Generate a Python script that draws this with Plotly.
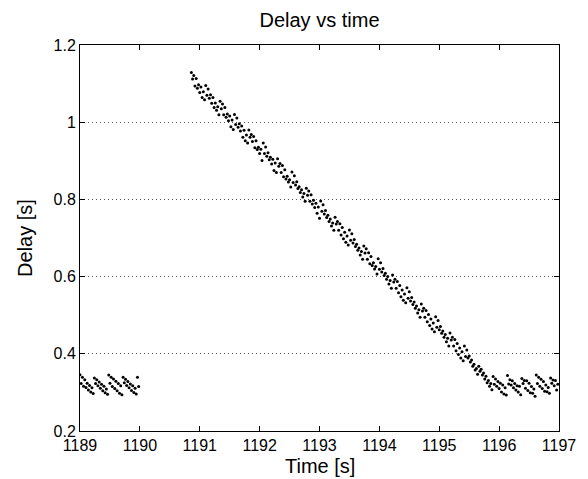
import numpy as np
import plotly.graph_objects as go

# Sampling grid (s)
sample_interval = 0.02
seg1_start = 1189.00
seg2_start = 1190.86

# Measured delay (ms), first burst
delay_seg1_ms = [
    346, 323, 339, 316, 333, 313, 324, 306, 318, 301, 312, 297,
    337, 323, 333, 317, 327, 311, 321, 304, 316, 299, 309, 295,
    345, 324, 339, 315, 335, 310, 329, 304, 323, 298, 317, 294,
    339, 325, 334, 318, 328, 312, 322, 305, 317, 300, 311, 296,
    339, 315,
]

# Measured delay (ms), second burst: draining queue then steady state
delay_seg2_ms = [
    1129, 1112, 1121, 1094, 1113, 1088, 1097, 1077, 1091, 1064, 1079, 1058,
    1095, 1070, 1086, 1062, 1071, 1049, 1064, 1038, 1050, 1031, 1040, 1019,
    1054, 1035, 1047, 1019, 1038, 1013, 1021, 1004, 1016, 988, 1006, 981,
    1020, 994, 1011, 987, 996, 977, 990, 961, 979, 952, 967, 946,
    980, 961, 968, 950, 963, 934, 952, 929, 935, 919, 930, 901,
    946, 919, 936, 912, 921, 903, 909, 892, 904, 875, 894, 870,
    905, 886, 893, 870, 888, 859, 877, 853, 860, 845, 851, 832,
    871, 844, 861, 837, 846, 828, 833, 818, 825, 806, 815, 795,
    829, 811, 822, 795, 812, 788, 798, 779, 790, 764, 780, 751,
    796, 769, 786, 762, 771, 753, 759, 743, 749, 731, 739, 720,
    754, 736, 743, 720, 737, 708, 727, 698, 715, 689, 705, 682,
    721, 694, 711, 687, 696, 678, 684, 668, 674, 656, 665, 645,
    679, 661, 672, 645, 662, 633, 652, 629, 636, 620, 626, 607,
    646, 619, 636, 612, 621, 603, 609, 593, 600, 581, 590, 570,
    604, 586, 593, 570, 587, 558, 577, 548, 565, 539, 555, 532,
    571, 544, 561, 537, 546, 528, 534, 518, 524, 506, 514, 495,
    529, 511, 518, 495, 512, 483, 502, 473, 490, 464, 480, 457,
    496, 469, 486, 462, 471, 453, 459, 443, 450, 431, 440, 420,
    454, 436, 443, 420, 437, 408, 427, 398, 415, 389, 405, 382,
    420, 393, 410, 389, 394, 379, 384, 368, 373, 358, 362, 347,
    368, 355, 360, 345, 350, 335, 342, 325, 331, 316, 323, 307,
    341, 321, 335, 316, 328, 310, 324, 301, 319, 296, 312, 293,
    344, 322, 333, 319, 330, 312, 323, 306, 317, 301, 316, 294,
    336, 323, 331, 311, 330, 305, 324, 299, 315, 298, 309, 290,
    345, 323, 339, 316, 334, 310, 328, 303, 319, 302, 313, 298,
    337, 324, 332, 317, 331, 306, 321,
]

x_ticks = [1189, 1190, 1191, 1192, 1193, 1194, 1195, 1196, 1197]
y_ticks = [0.2, 0.4, 0.6, 0.8, 1.0, 1.2]
y_tick_text = ["0.2", "0.4", "0.6", "0.8", "1", "1.2"]

t1 = seg1_start + sample_interval * np.arange(len(delay_seg1_ms))
t2 = seg2_start + sample_interval * np.arange(len(delay_seg2_ms))
d1 = np.array(delay_seg1_ms) / 1000.0
d2 = np.array(delay_seg2_ms) / 1000.0

FONT = "Liberation Sans, Arial, sans-serif"
marker = dict(color="black", size=3, line=dict(width=0))

fig = go.Figure()
fig.add_trace(go.Scatter(x=t1, y=d1, mode="markers", marker=marker, showlegend=False))
fig.add_trace(go.Scatter(x=t2, y=d2, mode="markers", marker=marker, showlegend=False))

axis_common = dict(
    showline=True, linecolor="black", linewidth=1, mirror="ticks",
    ticks="inside", ticklen=5, tickcolor="black", tickwidth=1,
    zeroline=False,
    tickfont=dict(family=FONT, size=16, color="black"),
)

fig.update_xaxes(
    range=[1189, 1197], tickvals=x_ticks, ticktext=[str(v) for v in x_ticks],
    showgrid=False, ticklabelstandoff=0, **axis_common,
)
fig.update_yaxes(
    range=[0.2, 1.2], tickvals=y_ticks, ticktext=y_tick_text,
    showgrid=True, gridcolor="#555555", gridwidth=1, griddash="1px,3px",
    **axis_common,
)

fig.update_layout(
    width=588, height=479,
    margin=dict(l=80, r=26, t=45, b=48),
    paper_bgcolor="white", plot_bgcolor="white",
    title=dict(text="Delay vs time", x=0.5, xanchor="center", xref="paper",
               y=1 - 20 / 479, yref="container", yanchor="middle",
               font=dict(family=FONT, size=20, color="black")),
    annotations=[
        dict(text="Time [s]", x=0.5, xref="paper", y=-0.09, yref="paper",
             xanchor="center", yanchor="middle", showarrow=False,
             font=dict(family=FONT, size=20, color="black")),
        dict(text="Delay [s]", x=-0.115, xref="paper", y=0.5, yref="paper",
             xanchor="center", yanchor="middle", showarrow=False, textangle=-90,
             font=dict(family=FONT, size=20, color="black")),
    ],
)

fig.write_html("out.html")
